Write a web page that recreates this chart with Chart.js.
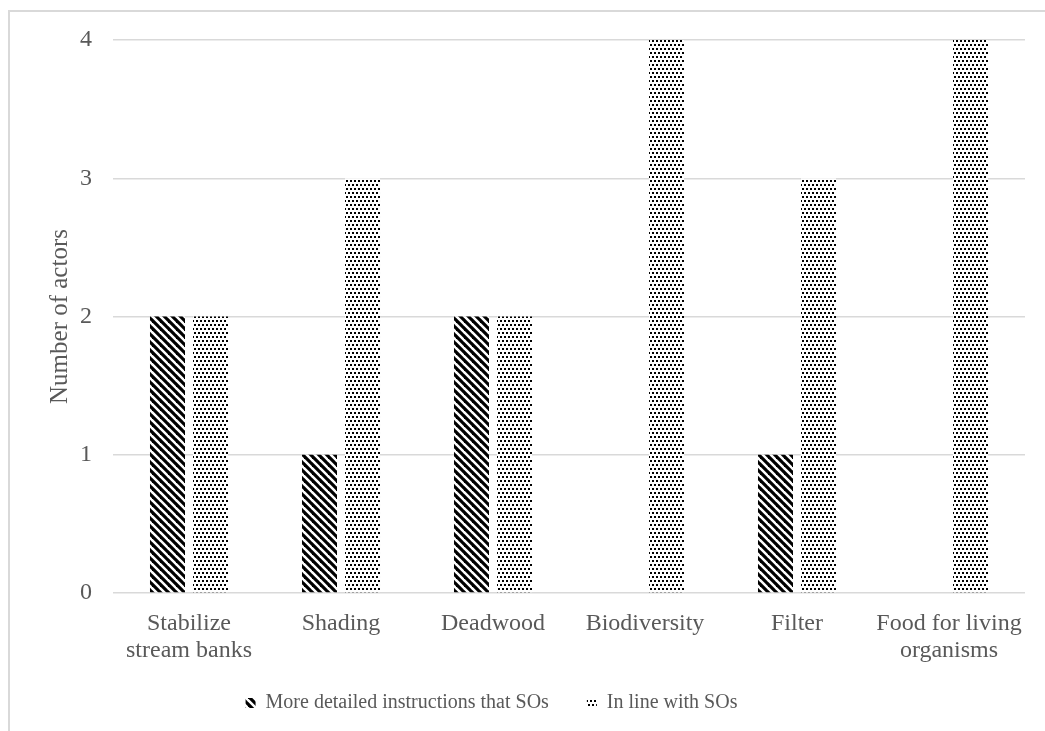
<!DOCTYPE html>
<html>
<head>
<meta charset="utf-8">
<script src="https://cdn.jsdelivr.net/npm/chart.js@4/dist/chart.umd.min.js"></script>
<style>
  html, body { margin: 0; padding: 0; background: #fff; }
  #frame { position: absolute; left: 8px; top: 10px; width: 1100px; height: 800px;
           border: 2px solid #d9d9d9; box-sizing: border-box; }
  #wrap { position: absolute; left: 0; top: 0; width: 1045px; height: 731px; }
</style>
</head>
<body>
<div id="frame"></div>
<div id="wrap"><canvas id="chart" width="1045" height="731"></canvas></div>
<script>
// Chart data
const categories = [
  ['Stabilize', 'stream banks'],
  'Shading',
  'Deadwood',
  'Biodiversity',
  'Filter',
  ['Food for living', 'organisms']
];
const seriesNames = ['More detailed instructions that SOs', 'In line with SOs'];
const detailedValues = [2, 1, 2, 0, 1, 0];
const inLineValues = [2, 3, 2, 4, 3, 4];
const yTicks = [0, 1, 2, 3, 4];

// Fill patterns: wide downward diagonal stripes and a staggered dot grid
function stripePattern() {
  const c = document.createElement('canvas');
  c.width = 8; c.height = 8;
  const g = c.getContext('2d');
  g.fillStyle = '#fff';
  g.fillRect(0, 0, 8, 8);
  g.strokeStyle = '#000';
  g.lineWidth = 3.2;
  for (const off of [-8, 0, 8]) {
    g.beginPath();
    g.moveTo(off - 2, -2);
    g.lineTo(off + 10, 10);
    g.stroke();
  }
  return g.createPattern(c, 'repeat');
}
function dotPattern() {
  const c = document.createElement('canvas');
  c.width = 8; c.height = 8;
  const g = c.getContext('2d');
  g.fillStyle = '#fff';
  g.fillRect(0, 0, 8, 8);
  g.fillStyle = '#000';
  for (const [x, y] of [[0, 0], [4, 0], [2, 4], [6, 4]]) g.fillRect(x, y, 2, 2);
  return g.createPattern(c, 'repeat');
}

const SERIF = '"Liberation Serif", "Times New Roman", serif';
const AXIS_FONT = { family: SERIF, size: 24 };
const LEGEND_FONT = { family: SERIF, size: 20 };
const TEXT = '#595959';
const GRID = '#d9d9d9';

// Places the legend row under the category labels
const legendPlacement = {
  id: 'legendPlacement',
  afterLayout(chart) {
    const l = chart.legend;
    if (!l) return;
    const dx = -21, dy = -18;
    l.left += dx; l.right += dx;
    l.top += dy; l.bottom += dy;
  }
};

new Chart(document.getElementById('chart'), {
  type: 'bar',
  data: {
    labels: categories,
    datasets: [
      { label: seriesNames[0], data: detailedValues, backgroundColor: stripePattern(), borderWidth: 0 },
      { label: seriesNames[1], data: inLineValues, backgroundColor: dotPattern(), borderWidth: 0 }
    ]
  },
  plugins: [legendPlacement],
  options: {
    responsive: false,
    animation: false,
    devicePixelRatio: 1,
    datasets: { bar: { categoryPercentage: 0.566, barPercentage: 0.814 } },
    layout: { padding: { top: 40, right: 20, bottom: -10, left: 0 } },
    plugins: {
      tooltip: { enabled: false },
      legend: {
        position: 'bottom',
        labels: {
          color: TEXT, font: LEGEND_FONT, boxWidth: 10, boxHeight: 10, padding: 38
        }
      }
    },
    scales: {
      x: {
        afterFit: (s) => { s.height = 80; },
        grid: { display: false, drawTicks: false },
        border: { display: false },
        ticks: { color: TEXT, font: { ...AXIS_FONT, lineHeight: 1.1 }, padding: 18, maxRotation: 0, autoSkip: false }
      },
      y: {
        min: 0, max: 4,
        afterBuildTicks: (s) => { s.ticks = yTicks.map(v => ({ value: v })); },
        afterFit: (s) => { s.width = 113; },
        grid: { color: GRID, lineWidth: 1.5, drawTicks: false },
        border: { display: false },
        ticks: { color: TEXT, font: AXIS_FONT, padding: 21 },
        title: {
          display: true, text: 'Number of actors', color: TEXT,
          font: { family: SERIF, size: 25 }, padding: { top: 45, bottom: 0 }
        }
      }
    }
  }
});
</script>
</body>
</html>
